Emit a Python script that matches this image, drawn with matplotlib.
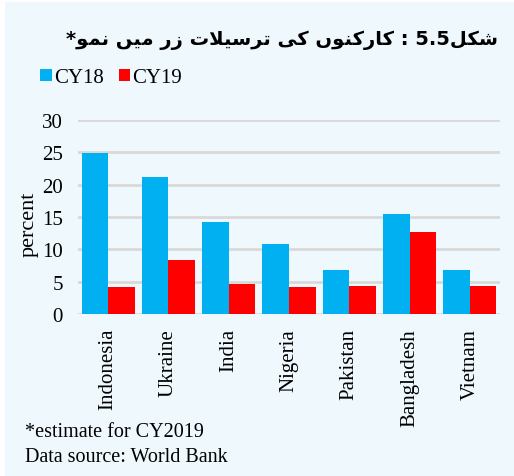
import matplotlib
matplotlib.use("Agg")
import matplotlib.pyplot as plt
from matplotlib.patches import Rectangle
import numpy as np

countries = ["Indonesia", "Ukraine", "India", "Nigeria", "Pakistan", "Bangladesh", "Vietnam"]
cy18 = [24.9, 21.2, 14.2, 10.8, 6.8, 15.4, 6.8]
cy19 = [4.1, 8.4, 4.7, 4.1, 4.4, 12.7, 4.4]
series_names = ["CY18", "CY19"]
yticks = [0, 5, 10, 15, 20, 25, 30]
title_words = ["شکل", "5.5", ":", "کارکنوں", "کی", "ترسیلات", "زر", "میں", "نمو*"]
notes = ["*estimate for CY2019", "Data source: World Bank"]

# contextual forms (isolated, final, initial, medial); matplotlib has no Arabic shaping
FORMS = {
    "ش": "\uFEB5\uFEB6\uFEB7\uFEB8", "ک": "\uFB8E\uFB8F\uFB90\uFB91",
    "ل": "\uFEDD\uFEDE\uFEDF\uFEE0", "ن": "\uFEE5\uFEE6\uFEE7\uFEE8",
    "ی": "\uFBFC\uFBFD\uFBFE\uFBFF", "ت": "\uFE95\uFE96\uFE97\uFE98",
    "س": "\uFEB1\uFEB2\uFEB3\uFEB4", "م": "\uFEE1\uFEE2\uFEE3\uFEE4",
    "ا": "\uFE8D\uFE8E", "ر": "\uFEAD\uFEAE", "و": "\uFEED\uFEEE",
    "ں": "\uFB9E\uFB9F", "ز": "\uFEAF\uFEB0", "لا": "\uFEFB\uFEFC",
}


def shape(word):
    if word[0] not in FORMS:
        return word
    chars = []
    i = 0
    while i < len(word):
        if word[i:i + 2] == "لا":
            chars.append("لا")
            i += 2
        else:
            chars.append(word[i])
            i += 1
    out = []
    for k, c in enumerate(chars):
        if c not in FORMS:
            out.append(c)
            continue
        f = FORMS[c]
        prev = k > 0 and chars[k - 1] in FORMS and len(FORMS[chars[k - 1]]) == 4
        nxt = len(f) == 4 and k + 1 < len(chars) and chars[k + 1] in FORMS
        idx = {(False, False): 0, (True, False): 1, (False, True): 2, (True, True): 3}[(prev, nxt)]
        out.append(f[idx])
    # trailing non-letters (e.g. '*') go to the visual left
    return "".join(reversed(out))


title = shape(title_words[0])
for w in title_words[1:]:
    sep = "" if w == "5.5" else " "
    title = shape(w) + sep + title

plt.rcParams["font.family"] = ["Liberation Serif", "DejaVu Serif"]

fig = plt.figure(figsize=(5.14, 4.77), dpi=100, facecolor="white")
fig.patches.append(Rectangle((5 / 514, 0), 1, 1 - 3 / 477, transform=fig.transFigure,
                             facecolor="#EEF8FD", edgecolor="none", zorder=-10))

ax = fig.add_axes([78 / 514, 1 - 315 / 477, 422 / 514, 194 / 477])
ax.set_facecolor("none")

x = np.arange(len(countries))
w = 0.44
b1 = ax.bar(x - w / 2, cy18, width=w, color="#00B0F0", label=series_names[0], zorder=3)
b2 = ax.bar(x + w / 2, cy19, width=w, color="#FF0000", label=series_names[1], zorder=3)

ax.set_xlim(-0.5, len(countries) - 0.5)
ax.set_ylim(0, 30)
ax.set_yticks(yticks)
ax.yaxis.grid(True, color="#D9D9D9", linewidth=2, zorder=0)
ax.tick_params(axis="both", length=0, labelsize=15)
ax.tick_params(axis="y", pad=11)
ax.tick_params(axis="x", pad=10)
ax.set_xticks(x)
ax.set_xticklabels(countries, rotation=90, va="top")
for s in ax.spines.values():
    s.set_visible(False)
ax.set_ylabel("percent", fontsize=16)
ax.yaxis.set_label_coords(-0.093, 0.47)

fig.legend(handles=[b1, b2], loc="upper left", bbox_to_anchor=(32 / 514, 1 - 61 / 477),
           ncol=2, frameon=False, fontsize=15, handlelength=0.55, handleheight=0.55,
           handletextpad=0.12, columnspacing=0.7, borderaxespad=0)

fig.text(498 / 514, 1 - 40 / 477, title, ha="right", va="center", fontsize=14,
         fontweight="bold", family=["DejaVu Sans"])

fig.text(25 / 514, 1 - 433 / 477, notes[0], ha="left", va="center", fontsize=14.5)
fig.text(25 / 514, 1 - 458 / 477, notes[1], ha="left", va="center", fontsize=14.5)

fig.savefig("out.png", dpi=100, facecolor=fig.get_facecolor())
